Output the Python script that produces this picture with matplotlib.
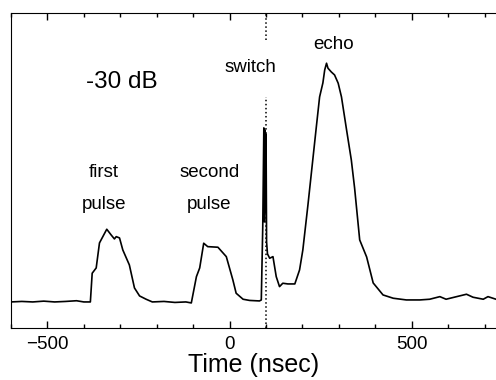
import matplotlib.pyplot as plt
from matplotlib.ticker import MultipleLocator

plt.rcParams['font.family'] = ['Liberation Sans', 'DejaVu Sans']

# time axis (nsec) and detected signal (arbitrary units)
time_ns = [-600, -570, -540, -510, -480, -450, -420, -400, -382,
           -377, -366, -357, -337, -325, -316, -311, -302, -293, -275,
           -261, -247, -229, -212, -180, -150, -120, -105,
           -91, -82, -71, -60, -32, -9, 9, 18, 37, 55, 82, 87,
           91, 94, 95.5, 97, 98.5, 100, 101.5, 104, 110, 119, 128, 137,
           146, 160, 179, 192, 201, 215, 238, 247, 256, 261, 266, 270,
           279, 288, 298, 307, 321, 334, 343, 357, 376, 394, 421, 449,
           485, 522, 549, 577, 594, 623, 650, 668, 696, 709, 731]
signal = [0, 0.5, 0, 0.8, 0, 0.5, 1.2, 0, 0,
          28.7, 34, 59, 72.7, 67, 63, 65.3, 64, 52, 37,
          14, 6, 2.7, 0, 0.5, -0.5, 0, -1,
          25.3, 34, 58.7, 55.3, 54.7, 45.3, 22, 8.7, 2.7, 1.5, 1, 2,
          75, 174, 80, 172, 90, 168, 60, 48, 43.7, 45.3, 25.3, 15.3,
          18.7, 18, 18, 32, 52, 97, 175, 205, 219, 232, 238.7, 233.7,
          230, 227, 218.7, 205, 172, 142, 114, 62, 45, 19, 7, 3.7,
          2, 2, 2.7, 5.3, 2.7, 5.3, 7.7, 4.7, 2.7, 5.3, 2.7]

switch_time = 100

fig = plt.figure(figsize=(4.96, 3.8), dpi=100)
ax = fig.add_axes([0.022, 0.137, 0.978, 0.829])

ax.plot(time_ns, signal, color='black', lw=1.2)

# dotted marker for the switch, broken around the label
ax.axvline(switch_time, ymin=0.0, ymax=0.733, color='black', ls=':', lw=1.1)
ax.axvline(switch_time, ymin=0.914, ymax=1.0, color='black', ls=':', lw=1.1)

ax.set_xlim(-600, 731)
ax.set_ylim(-26, 289)

ax.xaxis.set_major_locator(MultipleLocator(500))
ax.xaxis.set_minor_locator(MultipleLocator(100))
ax.tick_params(axis='x', which='both', direction='in', top=True, labelsize=13.5, pad=6)
ax.tick_params(axis='x', which='major', length=5, width=1)
ax.tick_params(axis='x', which='minor', length=3, width=1)
ax.set_yticks([])
ax.spines['right'].set_visible(False)

ax.set_xlabel('Time (nsec)', fontsize=18, labelpad=0)

ax.text(-295, 220, '-30 dB', fontsize=17.5, ha='center', va='center')
ax.text(-345, 129, 'first', fontsize=13.5, ha='center', va='center')
ax.text(-345, 97, 'pulse', fontsize=13.5, ha='center', va='center')
ax.text(-55, 129, 'second', fontsize=13.5, ha='center', va='center')
ax.text(-55, 97, 'pulse', fontsize=13.5, ha='center', va='center')
ax.text(58, 234, 'switch', fontsize=13.5, ha='center', va='center')
ax.text(285, 257, 'echo', fontsize=13.5, ha='center', va='center')

fig.savefig('out.png', dpi=100)
